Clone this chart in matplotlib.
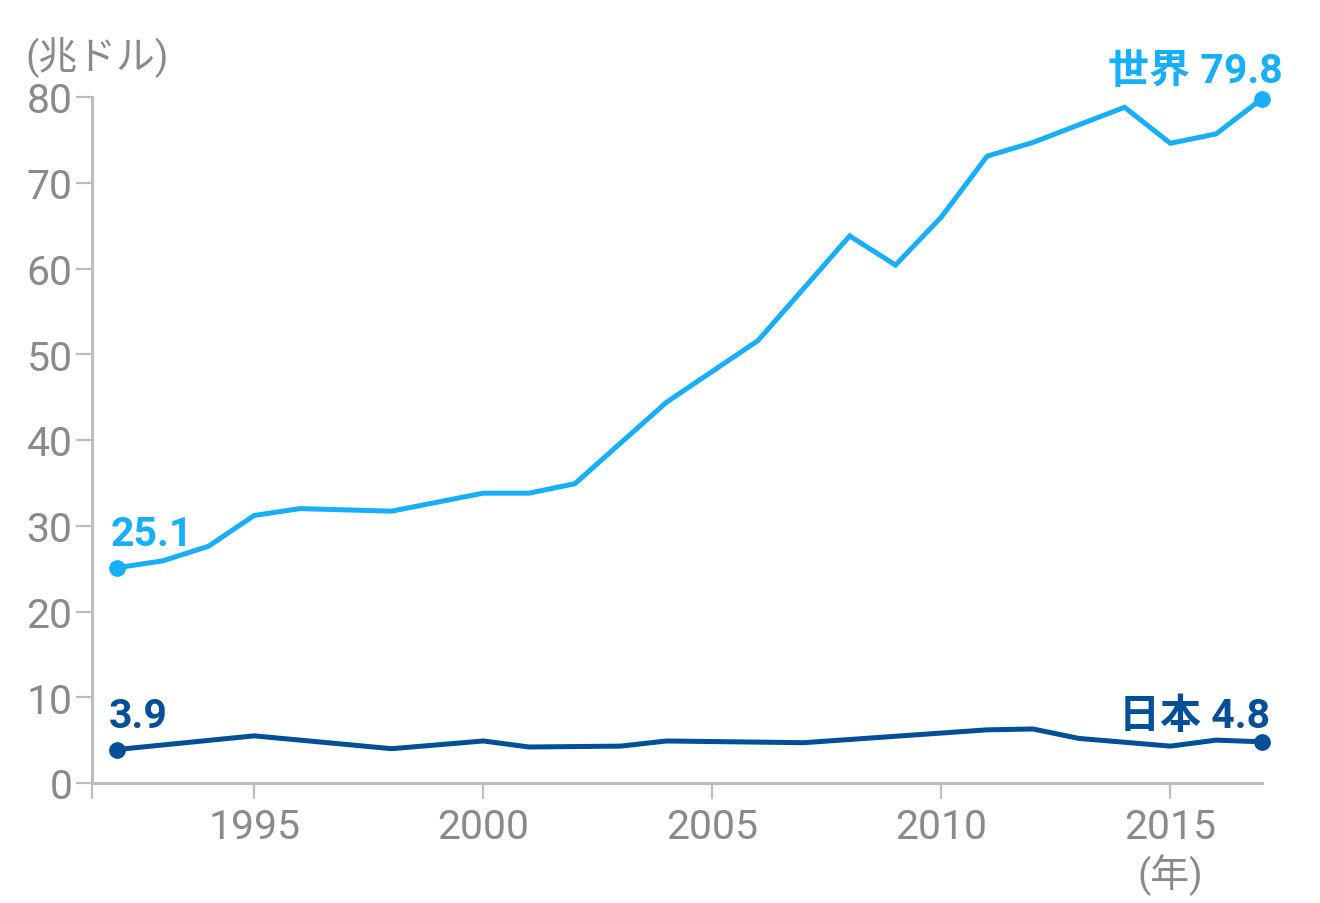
import matplotlib
matplotlib.use("Agg")
import matplotlib.pyplot as plt

# world nominal GDP (trillion USD), vertices
world_years = [1992, 1993, 1994, 1995, 1996, 1998, 2000, 2001, 2002, 2004,
               2006, 2008, 2009, 2010, 2011, 2012, 2014, 2015, 2016, 2017]
world_gdp = [25.1, 25.9, 27.6, 31.2, 32.0, 31.7, 33.8, 33.8, 34.9, 44.4,
             51.6, 63.8, 60.4, 66.0, 73.1, 74.7, 78.8, 74.6, 75.7, 79.8]

# Japan
japan_years = [1992, 1995, 1998, 2000, 2001, 2003, 2004, 2007, 2011, 2012,
               2013, 2015, 2016, 2017]
japan_gdp = [3.9, 5.5, 4.0, 4.9, 4.2, 4.3, 4.9, 4.7, 6.2, 6.3,
             5.2, 4.3, 5.0, 4.8]

y_ticks = [0, 10, 20, 30, 40, 50, 60, 70, 80]
x_ticks = [1995, 2000, 2005, 2010, 2015]

world_color = "#17aefb"
japan_color = "#014f98"
axis_color = "#bdbdbd"
text_color = "#8a8a8a"
fonts = ["Roboto", "Noto Sans CJK JP", "DejaVu Sans"]
plt.rcParams["font.family"] = fonts

fig = plt.figure(figsize=(13.2, 9.04), dpi=100)
ax = fig.add_axes([92 / 1320, 120 / 904, 1170 / 1320, 686 / 904])

ax.plot(world_years, world_gdp, color=world_color, lw=3.6, solid_joinstyle="miter",
        zorder=3, clip_on=False)
ax.plot(japan_years, japan_gdp, color=japan_color, lw=3.6, solid_joinstyle="miter",
        zorder=3, clip_on=False)
ax.plot([world_years[0], world_years[-1]], [world_gdp[0], world_gdp[-1]], "o",
        color=world_color, ms=11, zorder=4, clip_on=False)
ax.plot([japan_years[0], japan_years[-1]], [japan_gdp[0], japan_gdp[-1]], "o",
        color=japan_color, ms=11, zorder=4, clip_on=False)

ax.set_xlim(1991.46, 2017)
ax.set_ylim(0, 80)
ax.set_yticks(y_ticks)
ax.set_xticks([1991.46] + x_ticks)
ax.set_xticklabels([""] + [str(t) for t in x_ticks])

for s in ["top", "right"]:
    ax.spines[s].set_visible(False)
for s in ["left", "bottom"]:
    ax.spines[s].set_color(axis_color)
    ax.spines[s].set_linewidth(2.2)
ax.tick_params(axis="both", length=11.5, width=1.6, color=axis_color,
               labelcolor=text_color, labelsize=29.5)
ax.tick_params(axis="y", pad=2.5)
ax.tick_params(axis="x", pad=6)
for lab in ax.get_xticklabels() + ax.get_yticklabels():
    lab.set_fontfamily(fonts)

# end labels
px = 0.72
ax.annotate("25.1", (world_years[0], world_gdp[0]), xytext=(-6 * px, 23 * px),
            textcoords="offset points", ha="left", va="baseline",
            color=world_color, fontsize=29.5, fontweight="bold")
ax.annotate("3.9", (japan_years[0], japan_gdp[0]), xytext=(-8 * px, 23 * px),
            textcoords="offset points", ha="left", va="baseline",
            color=japan_color, fontsize=29.5, fontweight="bold")
ax.annotate("世界 79.8", (world_years[-1], world_gdp[-1]), xytext=(21 * px, 17 * px),
            textcoords="offset points", ha="right", va="baseline",
            color=world_color, fontsize=29.5, fontweight="bold")
ax.annotate("日本 4.8", (japan_years[-1], japan_gdp[-1]), xytext=(8 * px, 15 * px),
            textcoords="offset points", ha="right", va="baseline",
            color=japan_color, fontsize=29.5, fontweight="bold")

fig.text(25 / 1320, 1 - 58 / 904, "(兆ドル)", ha="left", va="center",
         color=text_color, fontsize=28)
ax.text(2015, -10.6, "(年)", ha="center", va="center",
        color=text_color, fontsize=28)

fig.savefig("out.png", dpi=100)
